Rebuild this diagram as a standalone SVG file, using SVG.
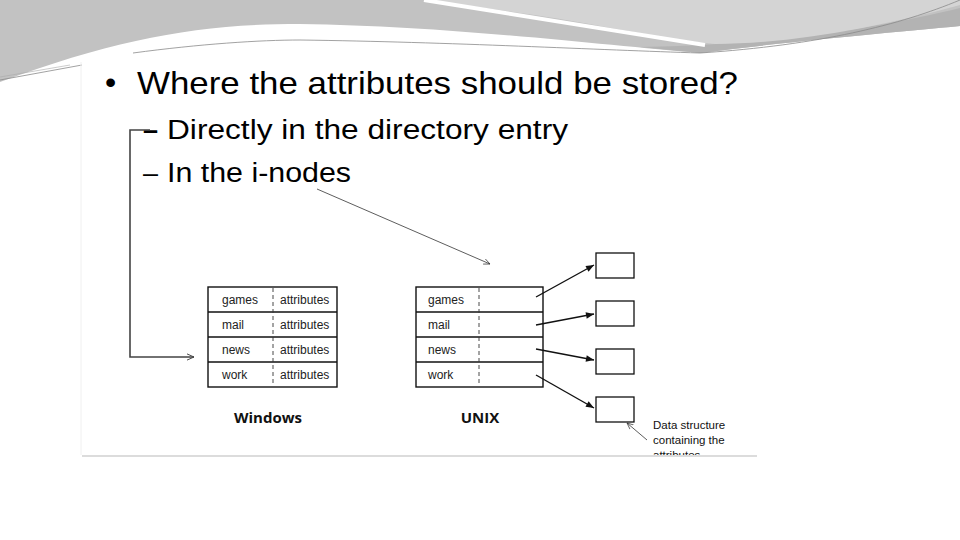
<svg xmlns="http://www.w3.org/2000/svg" width="960" height="540" viewBox="0 0 960 540">
<style>
.title{font-family:"Liberation Sans",Arial,sans-serif;fill:#000}
.cell{font-family:"Liberation Sans",Arial,sans-serif;font-size:12px;fill:#222}
.lbl{font-family:"Open Sans","Liberation Sans",sans-serif;font-weight:bold;font-size:15px;fill:#111}
.note{font-family:"Liberation Sans",Arial,sans-serif;font-size:11.5px;fill:#111}
.tbl{fill:#fff;stroke:#111;stroke-width:1.4}
.sep{stroke:#111;stroke-width:1.4}
.dash{stroke:#333;stroke-width:0.9;stroke-dasharray:4 3}
.box{fill:#fff;stroke:#111;stroke-width:1.3}
.arr{stroke:#111;stroke-width:1.4;fill:none}
.thin{stroke:#333;stroke-width:0.8;fill:none}
.conn{stroke:#444;stroke-width:1.6;fill:none}
</style>
<defs>
<marker id="solid" viewBox="0 0 10 10" refX="10" refY="5" markerWidth="12" markerHeight="8" markerUnits="userSpaceOnUse" orient="auto">
<path d="M0,1 L10,5 L0,9 Z" fill="#111"/>
</marker>
<marker id="open" viewBox="0 0 10 10" refX="9" refY="5" markerWidth="8" markerHeight="8" markerUnits="userSpaceOnUse" orient="auto">
<path d="M0,1 L9,5 L0,9" fill="none" stroke="#444" stroke-width="1.2"/>
</marker>
<marker id="openthin" viewBox="0 0 10 10" refX="9" refY="5" markerWidth="7" markerHeight="7" markerUnits="userSpaceOnUse" orient="auto">
<path d="M0,1 L9,5 L0,9" fill="none" stroke="#333" stroke-width="1"/>
</marker>
<clipPath id="imgclip"><rect x="82" y="60" width="675" height="395"/></clipPath>
</defs>
<rect width="960" height="540" fill="#ffffff"/>
<g id="background">
<path d="M0,0 H960 V26 C900,32 820,38 700,53 C600,45 450,26 300,24 C200,24 120,38 0,82 Z" fill="#c2c2c2"/>
<path d="M640,47 C760,46 880,28 960,8 V26 C900,32 820,38 700,53 Z" fill="#b3b3b3"/>
<path d="M427,0 C500,10 560,18 600,26 C650,35 690,42 715,44 C790,44 880,27 960,5 V0 Z" fill="#d4d4d4"/>
<path d="M424,0 C500,12 610,30 705,45" stroke="#ffffff" stroke-width="4" fill="none"/>
<path d="M133,53 C200,44 260,40 300,40 C450,42 600,50 700,53 C820,45 900,25 960,0" stroke="#8a8a8a" stroke-width="0.8" fill="none"/>
<path d="M0,80 L82,65" stroke="#8a8a8a" stroke-width="0.8" fill="none"/>
<path d="M0,77 L70,65" stroke="#aaaaaa" stroke-width="0.6" fill="none"/>
<line x1="82" y1="456" x2="757" y2="456" stroke="#dcdcdc" stroke-width="2"/>
<line x1="81" y1="62" x2="81" y2="455" stroke="#f0f0f0" stroke-width="1"/>
</g>
<g id="bullets">
<text class="title" x="105" y="93" font-size="32">•</text>
<text class="title" x="137" y="94" font-size="32" textLength="601" lengthAdjust="spacingAndGlyphs">Where the attributes should be stored?</text>
<text class="title" x="143" y="139" font-size="27" font-weight="bold">–</text>
<text class="title" x="167" y="139" font-size="27" textLength="401" lengthAdjust="spacingAndGlyphs">Directly in the directory entry</text>
<text class="title" x="143" y="182" font-size="27">–</text>
<text class="title" x="167" y="182" font-size="27" textLength="184" lengthAdjust="spacingAndGlyphs">In the i-nodes</text>
</g>
<g id="windows-table">
<rect class="tbl" x="208" y="287" width="129" height="100"/>
<line class="sep" x1="208" y1="312" x2="337" y2="312"/>
<line class="sep" x1="208" y1="337" x2="337" y2="337"/>
<line class="sep" x1="208" y1="362" x2="337" y2="362"/>
<line class="dash" x1="273" y1="288" x2="273" y2="386"/>
<text class="cell" x="222" y="304">games</text>
<text class="cell" x="222" y="329">mail</text>
<text class="cell" x="222" y="354">news</text>
<text class="cell" x="222" y="379">work</text>
<text class="cell" x="280" y="304">attributes</text>
<text class="cell" x="280" y="329">attributes</text>
<text class="cell" x="280" y="354">attributes</text>
<text class="cell" x="280" y="379">attributes</text>
<text class="lbl" x="268" y="423" text-anchor="middle">Windows</text>
</g>
<g id="unix-table">
<rect class="tbl" x="416" y="287" width="127" height="100"/>
<line class="sep" x1="416" y1="312" x2="543" y2="312"/>
<line class="sep" x1="416" y1="337" x2="543" y2="337"/>
<line class="sep" x1="416" y1="362" x2="543" y2="362"/>
<line class="dash" x1="479" y1="288" x2="479" y2="386"/>
<text class="cell" x="428" y="304">games</text>
<text class="cell" x="428" y="329">mail</text>
<text class="cell" x="428" y="354">news</text>
<text class="cell" x="428" y="379">work</text>
<text class="lbl" x="480" y="423" text-anchor="middle">UNIX</text>
</g>
<g id="attr-boxes">
<rect class="box" x="596" y="253" width="38" height="25"/>
<rect class="box" x="596" y="301" width="38" height="25"/>
<rect class="box" x="596" y="349" width="38" height="25"/>
<rect class="box" x="596" y="397" width="38" height="25"/>
</g>
<g id="note" clip-path="url(#imgclip)">
<text class="note" x="653" y="429">Data structure</text>
<text class="note" x="653" y="444">containing the</text>
<text class="note" x="653" y="459">attributes</text>
</g>
<g id="connectors">
<polyline class="conn" points="150,130 130,130 130,357 194,357" marker-end="url(#open)"/>
<line class="thin" x1="317" y1="189" x2="490" y2="264" marker-end="url(#openthin)"/>
<line class="arr" x1="536" y1="297" x2="594" y2="265" marker-end="url(#solid)"/>
<line class="arr" x1="536" y1="325" x2="594" y2="314" marker-end="url(#solid)"/>
<line class="arr" x1="536" y1="349" x2="594" y2="360" marker-end="url(#solid)"/>
<line class="arr" x1="536" y1="375" x2="594" y2="408" marker-end="url(#solid)"/>
<line class="thin" x1="647" y1="440" x2="627" y2="423" marker-end="url(#openthin)"/>
</g>
</svg>
